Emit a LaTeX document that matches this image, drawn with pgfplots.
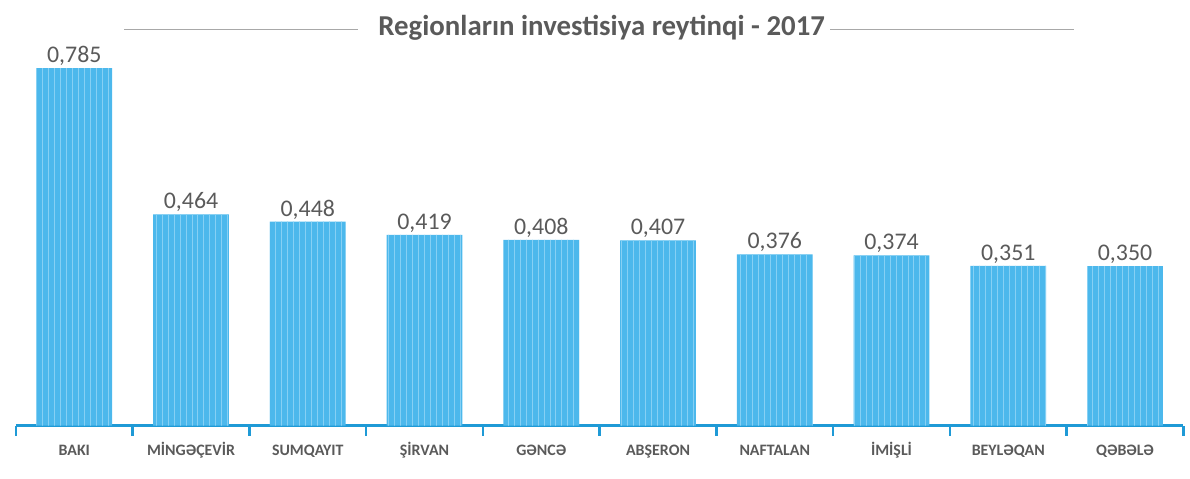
\documentclass[border=0pt]{standalone}
\usepackage{pgfplots}
\pgfplotsset{compat=1.18}
\usepackage{fontspec}
\setmainfont{Carlito}
\usetikzlibrary{calc,patterns}
\definecolor{barblue}{HTML}{4CB8EC}
\definecolor{stripe}{HTML}{86D0F4}
\definecolor{axblue}{HTML}{1F9AD6}
\definecolor{txtgray}{HTML}{5A5A5A}
\definecolor{linegray}{HTML}{A8A8A8}
\begin{document}
\begin{tikzpicture}
\begin{axis}[name=ax,
  scale only axis,
  width=587pt, height=194.65pt,
  xmin=-0.5, xmax=9.5, ymin=0, ymax=0.85,
  axis y line=none,
  axis x line*=bottom,
  x axis line style={axblue, line width=1.2pt},
  ybar, bar width=38pt,
  xtick={0,...,9},
  xticklabels={BAKI,MİNGƏÇEVİR,SUMQAYIT,ŞİRVAN,GƏNCƏ,ABŞERON,NAFTALAN,İMİŞLİ,BEYLƏQAN,QƏBƏLƏ},
  major tick length=0pt,
  typeset ticklabels with strut,
  xticklabel style={font=\bfseries\fontsize{8}{9.5}\selectfont, text=txtgray, yshift=-5pt},
  extra x ticks={-0.5,0.5,1.5,2.5,3.5,4.5,5.5,6.5,7.5,8.5,9.5},
  extra x tick labels={},
  extra x tick style={tick align=outside, major tick length=5pt, tick style={axblue, line width=1.2pt}},
  nodes near coords={\pgfmathprintnumber[assume math mode=true,use comma,fixed,fixed zerofill,precision=3]{\pgfplotspointmeta}},
  every node near coord/.append style={font=\fontsize{12}{14}\selectfont, text=txtgray, inner sep=1pt, yshift=0pt},
  clip=false,
]
\addplot[fill=barblue, draw=none, postaction={pattern=vertical lines, pattern color=stripe}] coordinates {
(0,0.785) (1,0.464) (2,0.448) (3,0.419) (4,0.408) (5,0.407) (6,0.376) (7,0.374) (8,0.351) (9,0.350)};
\end{axis}
\path[use as bounding box] ($(ax.south west)+(-8pt,-14.5pt)$) rectangle ($(ax.south west)+(587pt,214pt)$);
\node[font=\bfseries\fontsize{14.5}{17}\selectfont, text=txtgray] at ($(ax.south west)+(294.5pt,200pt)$) {Regionların investisiya reytinqi - 2017};
\draw[linegray, line width=0.6pt] ($(ax.south west)+(54.5pt,199pt)$) -- ($(ax.south west)+(172pt,199pt)$);
\draw[linegray, line width=0.6pt] ($(ax.south west)+(409.5pt,199pt)$) -- ($(ax.south west)+(532pt,199pt)$);
\end{tikzpicture}
\end{document}
